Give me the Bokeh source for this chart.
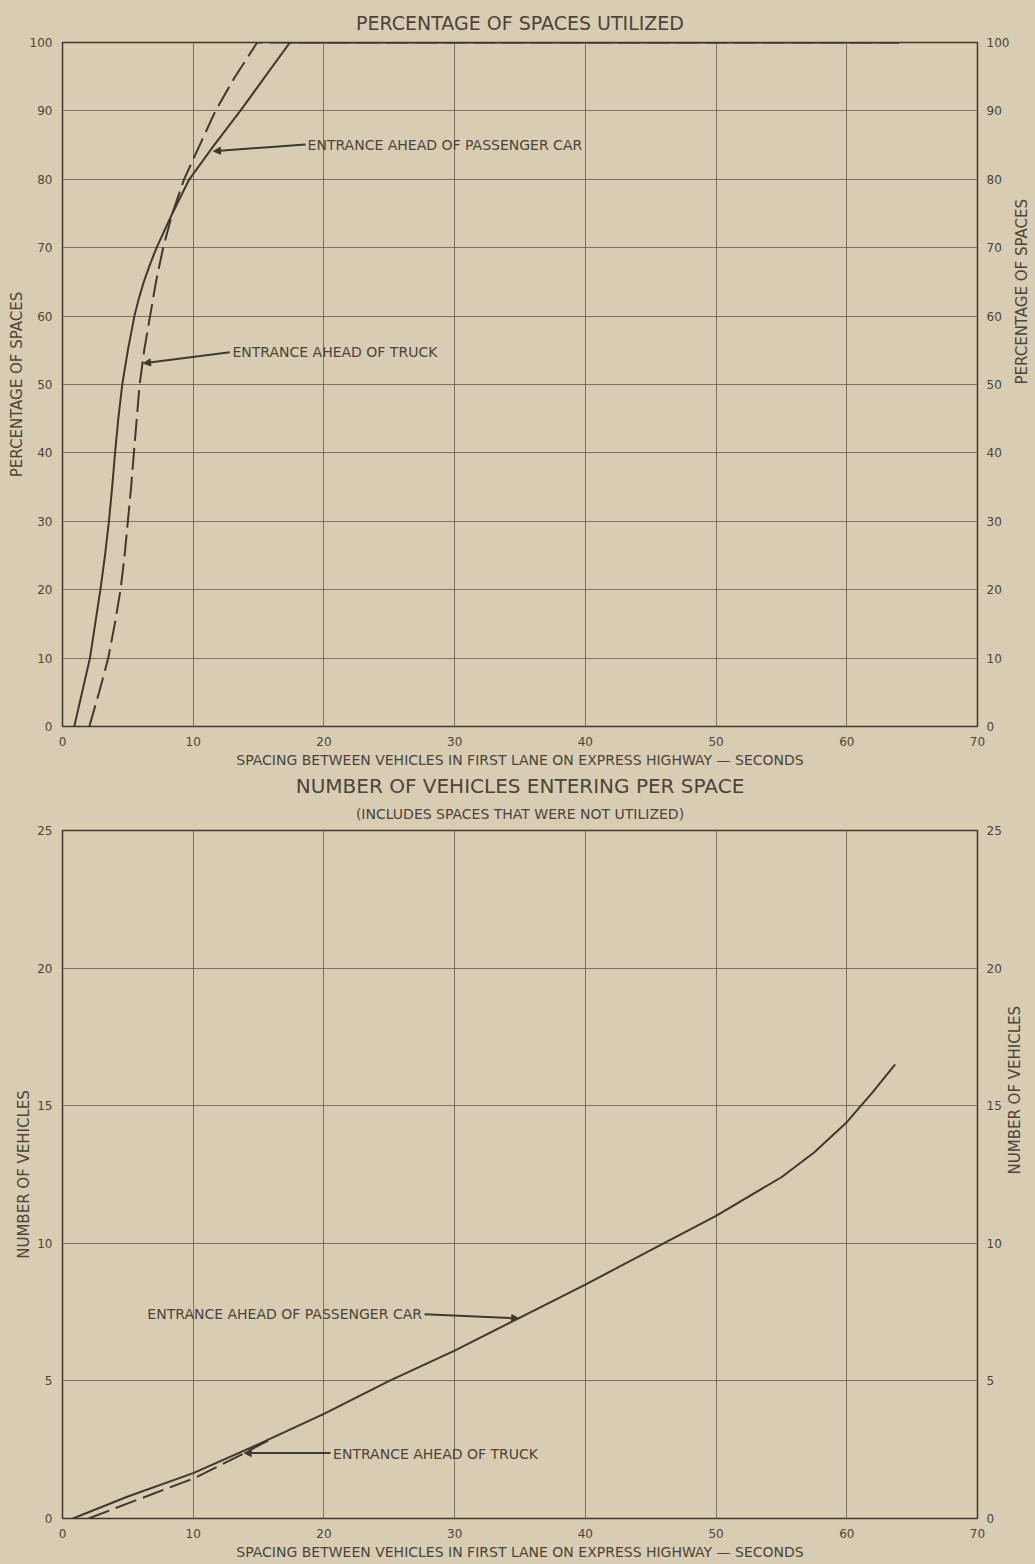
import math
from bokeh.plotting import figure
from bokeh.models import Range1d, LinearAxis, FixedTicker, Label, Arrow, NormalHead, Title
from bokeh.layouts import column
from bokeh.embed import file_html
from bokeh.resources import INLINE

# ---------------- data ----------------
x_ticks = [0, 10, 20, 30, 40, 50, 60, 70]
top_y_ticks = [0, 10, 20, 30, 40, 50, 60, 70, 80, 90, 100]
bot_y_ticks = [0, 5, 10, 15, 20, 25]

# Percentage of spaces utilized
top_car_x = [0.9, 1.5, 2.1, 2.5, 2.9, 3.25, 3.55, 3.8, 4.02, 4.27, 4.57, 5.0, 5.5, 5.83,
             6.22, 6.68, 7.2, 8.4, 9.7, 11.6, 13.6, 15.5, 17.4, 64.0]
top_car_y = [0, 5, 10, 15, 20, 25, 30, 35, 40, 45, 50, 55, 60, 62.5,
             65, 67.5, 70, 75, 80, 85, 90, 95, 100, 100]
top_truck_x = [2.05, 2.8, 3.5, 4.0, 4.44, 4.75, 5.0, 5.25, 5.46, 5.68, 5.9, 6.25, 6.7,
               7.15, 7.7, 8.4, 9.3, 10.5, 11.7, 13.2, 14.9, 64.0]
top_truck_y = [0, 5, 10, 15, 20, 25, 30, 35, 40, 45, 50, 55, 60,
               65, 70, 75, 80, 85, 90, 95, 100, 100]

# Number of vehicles entering per space
bot_car_x = [0.8, 5, 10, 15, 20, 25, 30, 35, 40, 45, 50, 55, 57.5, 60, 62, 63.7]
bot_car_y = [0, 0.8, 1.65, 2.7, 3.8, 5.0, 6.1, 7.3, 8.5, 9.75, 11.0, 12.4, 13.3, 14.4,
             15.5, 16.5]
bot_truck_x = [2.0, 5, 10, 13.2, 16]
bot_truck_y = [0, 0.55, 1.45, 2.2, 2.9]

# ---------------- styling ----------------
BG = "#d8cdb3"
INK = "#3e392e"
GRID = "#6b6455"
TXT = "#4a4538"
FONT = "DejaVu Sans"
X_TITLE = "SPACING BETWEEN VEHICLES IN FIRST LANE ON EXPRESS HIGHWAY \u2014 SECONDS"


def make_fig(y_max, y_ticks, y_label, h, top, bottom):
    p = figure(frame_width=915, frame_height=h, x_range=Range1d(0, 70),
               y_range=Range1d(0, y_max), output_backend="svg",
               toolbar_location=None, background_fill_color=BG,
               border_fill_color=BG, min_border_left=62, min_border_right=58,
               min_border_top=top, min_border_bottom=bottom)
    p.outline_line_color = INK
    p.outline_line_width = 1.5
    p.xaxis.ticker = FixedTicker(ticks=x_ticks)
    p.yaxis.ticker = FixedTicker(ticks=y_ticks)
    right = LinearAxis(ticker=FixedTicker(ticks=y_ticks))
    p.add_layout(right, "right")
    for ax in p.axis:
        ax.axis_line_color = None
        ax.major_tick_line_color = None
        ax.minor_tick_line_color = None
        ax.major_tick_out = 0
        ax.major_tick_in = 0
        ax.minor_tick_out = 0
        ax.minor_tick_in = 0
        ax.major_label_text_font = FONT
        ax.major_label_text_font_size = "12px"
        ax.major_label_text_color = TXT
        ax.axis_label_text_font = FONT
        ax.axis_label_text_font_style = "normal"
        ax.axis_label_text_color = TXT
    p.xaxis.axis_label = X_TITLE
    p.xaxis.axis_label_text_font_size = "14px"
    p.xaxis.major_label_standoff = 10
    p.xaxis.axis_label_standoff = 3
    for ax in (p.yaxis[0], right):
        ax.axis_label = y_label
        ax.axis_label_text_font_size = "15px"
        ax.major_label_standoff = 10
    p.yaxis[0].axis_label_standoff = 1
    right.axis_label_standoff = 10
    right.major_label_standoff = 9
    right.axis_label_orientation = math.pi / 2
    p.grid.grid_line_color = GRID
    p.grid.grid_line_width = 1
    p.grid.grid_line_alpha = 0.85
    return p


# ---------------- top chart ----------------
p1 = make_fig(100, top_y_ticks, "PERCENTAGE OF SPACES", 684, 42, 72)
p1.add_layout(Title(text="PERCENTAGE OF SPACES UTILIZED", align="center",
                    text_font=FONT, text_font_size="19px", text_font_style="normal",
                    text_color=TXT, standoff=18), "above")
p1.line(top_car_x, top_car_y, line_color=INK, line_width=2)
p1.line(top_truck_x, top_truck_y, line_color=INK, line_width=2, line_dash="22 7")
p1.add_layout(Label(x=18.75, y=85.0, text="ENTRANCE AHEAD OF PASSENGER CAR",
                    text_baseline="middle", text_font=FONT,
                    text_font_size="14px", text_color=TXT))
p1.add_layout(Arrow(x_start=18.6, y_start=85.1, x_end=11.55, y_end=84.1,
                    line_color=INK, line_width=2,
                    end=NormalHead(size=7, fill_color=INK, line_color=INK)))
p1.add_layout(Label(x=13.0, y=54.7, text="ENTRANCE AHEAD OF TRUCK",
                    text_baseline="middle", text_font=FONT,
                    text_font_size="14px", text_color=TXT))
p1.add_layout(Arrow(x_start=12.8, y_start=54.7, x_end=6.2, y_end=53.1,
                    line_color=INK, line_width=2,
                    end=NormalHead(size=7, fill_color=INK, line_color=INK)))
# heading of the lower chart, placed under the upper chart's axis
p1.add_layout(Title(text="NUMBER OF VEHICLES ENTERING PER SPACE", align="center",
                    text_font=FONT, text_font_size="20px", text_font_style="normal",
                    text_color=TXT, standoff=2), "below")

# ---------------- bottom chart ----------------
p2 = make_fig(25, bot_y_ticks, "NUMBER OF VEHICLES", 688, 32, 46)
p2.add_layout(Title(text="(INCLUDES SPACES THAT WERE NOT UTILIZED)", align="center",
                    vertical_align="top",
                    text_font=FONT, text_font_size="14px", text_font_style="normal",
                    text_color=TXT, standoff=13), "above")
p2.line(bot_car_x, bot_car_y, line_color=INK, line_width=2)
p2.line(bot_truck_x, bot_truck_y, line_color=INK, line_width=2, line_dash="22 7")
p2.add_layout(Label(x=27.5, y=7.42, text="ENTRANCE AHEAD OF PASSENGER CAR",
                    text_align="right", text_baseline="middle", text_font=FONT,
                    text_font_size="14px", text_color=TXT))
p2.add_layout(Arrow(x_start=27.7, y_start=7.42, x_end=34.9, y_end=7.27,
                    line_color=INK, line_width=2,
                    end=NormalHead(size=7, fill_color=INK, line_color=INK)))
p2.add_layout(Label(x=20.7, y=2.36, text="ENTRANCE AHEAD OF TRUCK",
                    text_baseline="middle", text_font=FONT,
                    text_font_size="14px", text_color=TXT))
p2.add_layout(Arrow(x_start=20.5, y_start=2.38, x_end=13.9, y_end=2.38,
                    line_color=INK, line_width=2,
                    end=NormalHead(size=7, fill_color=INK, line_color=INK)))

layout = column(p1, p2, spacing=0, styles={"background-color": BG})
open("out.html", "w").write(file_html(layout, INLINE))
